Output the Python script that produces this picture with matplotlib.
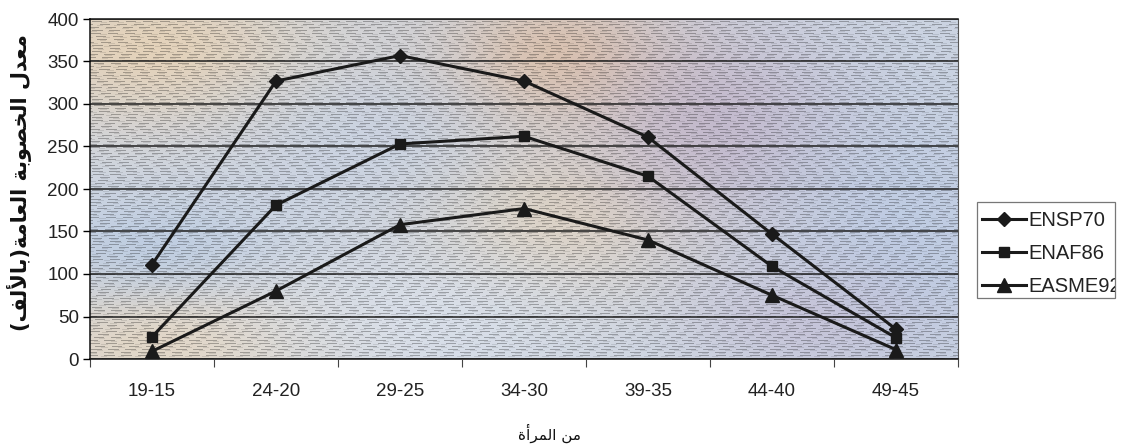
import numpy as np
import matplotlib
matplotlib.use("Agg")
import matplotlib.pyplot as plt
from matplotlib.patches import Rectangle

# ---------------- data ----------------
categories = ["19-15", "24-20", "29-25", "34-30", "39-35", "44-40", "49-45"]
ensp70 = [111, 327, 357, 327, 261, 147, 35]
enaf86 = [26, 181, 253, 262, 215, 109, 25]
easme92 = [9, 80, 158, 177, 140, 75, 11]
series_names = ["ENSP70", "ENAF86", "EASME92"]
y_ticks = [0, 50, 100, 150, 200, 250, 300, 350, 400]
y_label = "معدل الخصوبة العامة(بالألف)"
x_label = "من المرأة"

# ---------------- minimal Arabic shaping ----------------
AR_FORMS = {
    '\u0627': ('\uFE8D', '\uFE8E', None, None),
    '\u0623': ('\uFE83', '\uFE84', None, None),
    '\u0628': ('\uFE8F', '\uFE90', '\uFE91', '\uFE92'),
    '\u0629': ('\uFE93', '\uFE94', None, None),
    '\u062E': ('\uFEA5', '\uFEA6', '\uFEA7', '\uFEA8'),
    '\u062F': ('\uFEA9', '\uFEAA', None, None),
    '\u0631': ('\uFEAD', '\uFEAE', None, None),
    '\u0633': ('\uFEB1', '\uFEB2', '\uFEB3', '\uFEB4'),
    '\u0635': ('\uFEB9', '\uFEBA', '\uFEBB', '\uFEBC'),
    '\u0639': ('\uFEC9', '\uFECA', '\uFECB', '\uFECC'),
    '\u0641': ('\uFED1', '\uFED2', '\uFED3', '\uFED4'),
    '\u0644': ('\uFEDD', '\uFEDE', '\uFEDF', '\uFEE0'),
    '\u0645': ('\uFEE1', '\uFEE2', '\uFEE3', '\uFEE4'),
    '\u0646': ('\uFEE5', '\uFEE6', '\uFEE7', '\uFEE8'),
    '\u0648': ('\uFEED', '\uFEEE', None, None),
}
LAM_ALEF = {'\u0627': ('\uFEFB', '\uFEFC'), '\u0623': ('\uFEF7', '\uFEF8')}


def shape(text):
    items = []
    i = 0
    while i < len(text):
        c = text[i]
        if c == '\u0644' and i + 1 < len(text) and text[i + 1] in LAM_ALEF:
            items.append(('LA', text[i + 1]))
            i += 2
        else:
            items.append((c, None))
            i += 1

    def joins_left(it):
        c, _ = it
        if c == 'LA':
            return False
        f = AR_FORMS.get(c)
        return f is not None and f[2] is not None

    def joins_right(it):
        c, _ = it
        return c == 'LA' or c in AR_FORMS

    out = []
    for k, it in enumerate(items):
        c, a = it
        pj = k > 0 and joins_left(items[k - 1]) and joins_right(it)
        nj = k + 1 < len(items) and joins_left(it) and joins_right(items[k + 1])
        if c == 'LA':
            out.append(LAM_ALEF[a][1 if pj else 0])
        elif c in AR_FORMS:
            f = AR_FORMS[c]
            if pj and nj:
                out.append(f[3])
            elif pj:
                out.append(f[1])
            elif nj:
                out.append(f[2])
            else:
                out.append(f[0])
        else:
            out.append(c)
    mirror = {'(': ')', ')': '('}
    return ''.join(mirror.get(ch, ch) for ch in reversed(out))


# ---------------- figure ----------------
W, H = 1126, 448
fig = plt.figure(figsize=(W / 100, H / 100), dpi=100, facecolor="white")
ax_l, ax_r, ax_t, ax_b = 90, 958, 19, 359
ax = fig.add_axes([ax_l / W, 1 - ax_b / H, (ax_r - ax_l) / W, (ax_b - ax_t) / H])

x = np.arange(len(categories))
ax.set_xlim(-0.5, len(categories) - 0.5)
ax.set_ylim(0, 400)

# textured scanned background (decorative)
ph, pw = ax_b - ax_t, ax_r - ax_l
yy, xx = np.mgrid[0:ph, 0:pw].astype(float)
img = np.ones((ph, pw, 3)) * np.array([205, 213, 226]) / 255.0
blobs = [
    (60, 30, 130, 60, (230, 210, 182), 0.9),
    (80, 320, 130, 45, (232, 214, 188), 0.8),
    (60, 230, 90, 35, (180, 200, 226), 0.6),
    (470, 40, 90, 55, (222, 190, 162), 0.8),
    (470, 200, 100, 60, (230, 210, 180), 0.65),
    (630, 110, 90, 70, (190, 172, 196), 0.65),
    (330, 300, 130, 50, (222, 230, 242), 0.6),
    (820, 220, 100, 100, (184, 200, 228), 0.65),
    (720, 300, 80, 40, (196, 184, 208), 0.5),
    (280, 120, 90, 50, (198, 210, 230), 0.5),
]
for cx, cy, sx, sy, col, s in blobs:
    w = s * np.exp(-((xx - cx) ** 2 / (2 * sx ** 2) + (yy - cy) ** 2 / (2 * sy ** 2)))
    img = img * (1 - w[..., None]) + (np.array(col) / 255.0) * w[..., None]
rows = yy.astype(int)
dash = np.sin(xx * 0.37 + 13.7 * np.sin(yy * 0.91)) > -0.35
img = img * np.where(((rows % 3 == 0) & dash)[..., None], 0.72, 1.0)
img = img * np.where(((rows % 3 == 1) & ~dash)[..., None], 0.9, 1.0)
img = np.clip(img, 0, 1)
ax.imshow(img, extent=(-0.5, len(categories) - 0.5, 0, 400), aspect="auto",
          interpolation="nearest", zorder=0)

# gridlines
ax.set_yticks(y_ticks)
ax.yaxis.grid(True, color="#1e1e1e", linewidth=1.1, zorder=1)
ax.set_axisbelow(False)

line_col = "#1a1a1a"
ax.plot(x, ensp70, color=line_col, lw=2.2, marker="D", ms=7, zorder=3, label=series_names[0])
ax.plot(x, enaf86, color=line_col, lw=2.2, marker="s", ms=7, zorder=3, label=series_names[1])
ax.plot(x, easme92, color=line_col, lw=2.2, marker="^", ms=9.5, zorder=3, label=series_names[2])

# axes styling
for side in ["left", "bottom", "top"]:
    ax.spines[side].set_color("#111111")
    ax.spines[side].set_linewidth(1.1)
ax.spines["right"].set_color("#555555")
ax.spines["right"].set_linewidth(0.8)

ax.set_xticks(x)
ax.set_xticklabels(categories)
ax.set_xticks(np.arange(-0.5, len(categories) - 0.4, 1), minor=True)
ax.tick_params(axis="x", which="major", length=0, pad=17, labelsize=13.5)
ax.tick_params(axis="x", which="minor", length=6, width=0.8, color="#444444")
ax.tick_params(axis="y", which="major", length=5, width=1.0, pad=3, labelsize=13.5)
for lab in ax.get_xticklabels() + ax.get_yticklabels():
    lab.set_fontfamily("Liberation Sans")
    lab.set_color("#222222")

# axis titles
fig.text(19 / W, 1 - 183 / H, shape(y_label), rotation=90, ha="center", va="center",
         fontsize=15, fontweight="bold", family="DejaVu Sans", color="#111111")
fig.text(550 / W, 1 - 433 / H, shape(x_label), ha="center", va="center",
         fontsize=11, family="DejaVu Sans", color="#111111")

# legend with clipped frame
fl, fr, ft, fb = 977, 1115, 202, 298
frame = Rectangle((fl / W, 1 - fb / H), (fr - fl) / W, (fb - ft) / H,
                  transform=fig.transFigure, facecolor="white", edgecolor="#777777",
                  linewidth=0.9, zorder=1)
fig.add_artist(frame)
handles, labels = ax.get_legend_handles_labels()
leg = fig.legend(handles, labels, loc="upper left",
                 bbox_to_anchor=(982 / W, 1 - 211 / H), frameon=False,
                 borderpad=0, borderaxespad=0, handlelength=2.2,
                 handletextpad=0.12, labelspacing=0.7,
                 prop={"family": "Liberation Sans", "size": 14.5})
for t in leg.get_texts():
    t.set_clip_path(frame)
    t.set_color("#222222")

fig.savefig("out.png", dpi=100, facecolor="white")
